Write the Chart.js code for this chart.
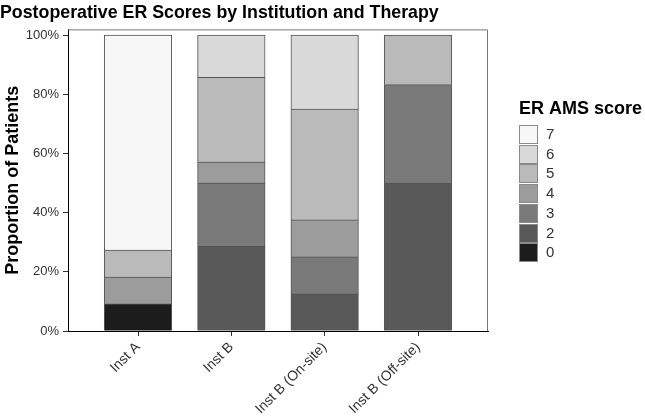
<!DOCTYPE html>
<html>
<head>
<meta charset="utf-8">
<script src="https://cdn.jsdelivr.net/npm/chart.js@4.4.1/dist/chart.umd.min.js"></script>
<style>
    html, body { margin: 0; padding: 0; background: #fff; }
</style>
</head>
<body>
<canvas id="myChart" width="645" height="420"></canvas>
<script>
// categories and stacked percentages per ER AMS score
const categories = ['Inst A', 'Inst B', 'Inst B (On-site)', 'Inst B (Off-site)'];
const scoreLabels = ['0', '2', '3', '4', '5', '6', '7'];
const score0 = [9.1, 0, 0, 0];
const score2 = [0, 28.6, 12.5, 50.0];
const score3 = [0, 21.4, 12.5, 33.3];
const score4 = [9.1, 7.1, 12.5, 0];
const score5 = [9.1, 28.6, 37.5, 16.7];
const score6 = [0, 14.3, 25.0, 0];
const score7 = [72.7, 0, 0, 0];
const yTicks = [0, 20, 40, 60, 80, 100];

const greys = ['#1c1c1c', '#595959', '#7a7a7a', '#9c9c9c', '#bababa', '#d9d9d9', '#f7f7f7'];
const seriesValues = [score0, score2, score3, score4, score5, score6, score7];
const FONT = '"Liberation Sans", Arial, sans-serif';

let datasets = seriesValues.map((vals, i) => ({
    label: scoreLabels[i],
    data: vals.map((v, j) => ({ x: j, y: v })),
    backgroundColor: greys[i],
    borderColor: '#555555',
    borderWidth: { top: 1, left: 1, right: 1, bottom: 0 },
    borderSkipped: false,
    inflateAmount: 0.5,
    categoryPercentage: 0.8,
    barPercentage: 0.9
}));

// top and right panel border
const panelBorder = {
    id: 'panelBorder',
    afterDatasetsDraw(chart) {
        const { ctx, chartArea: a } = chart;
        ctx.save();
        ctx.strokeStyle = '#777777';
        ctx.lineWidth = 1;
        ctx.beginPath();
        ctx.moveTo(a.left, a.top + 0.5);
        ctx.lineTo(a.right - 0.5, a.top + 0.5);
        ctx.lineTo(a.right - 0.5, a.bottom);
        ctx.stroke();
        ctx.restore();
    }
};

// legend drawn to the right of the panel, score 7 on top
const scoreLegend = {
    id: 'scoreLegend',
    afterDraw(chart) {
        const ctx = chart.ctx;
        const x = 519;
        ctx.save();
        ctx.fillStyle = '#000';
        ctx.font = 'bold 18px ' + FONT;
        ctx.textBaseline = 'alphabetic';
        ctx.textAlign = 'left';
        ctx.fillText('ER AMS score', x, 114);
        let items = chart.data.datasets.slice().reverse();
        ctx.font = '15px ' + FONT;
        ctx.textBaseline = 'middle';
        items.forEach((ds, i) => {
            let y = Math.round(125 + i * 19.7);
            ctx.fillStyle = ds.backgroundColor;
            ctx.fillRect(x, y, 19, 19);
            ctx.strokeStyle = '#8a8a8a';
            ctx.strokeRect(x + 0.5, y + 0.5, 18, 18);
            ctx.fillStyle = '#333';
            ctx.fillText(ds.label, x + 27, y + 10);
        });
        ctx.restore();
    }
};

let ctx = document.getElementById('myChart').getContext('2d');
let myChart = new Chart(ctx, {
    type: 'bar',
    data: { datasets: datasets },
    plugins: [panelBorder, scoreLegend],
    options: {
        responsive: false,
        animation: false,
        layout: { padding: { left: 0, right: 157, top: 0, bottom: 0 } },
        plugins: {
            legend: { display: false },
            tooltip: { enabled: false },
            title: {
                display: true,
                text: 'Postoperative ER Scores by Institution and Therapy',
                align: 'start',
                color: '#000',
                font: { family: FONT, size: 17.8, weight: 'bold' },
                padding: { top: 2, bottom: 6 }
            }
        },
        scales: {
            x: {
                type: 'linear',
                stacked: true,
                offset: false,
                min: -0.75,
                max: 3.75,
                afterBuildTicks: s => { s.ticks = categories.map((c, i) => ({ value: i })); },
                afterFit: s => { s.height = 89; },
                grid: { display: true, offset: false, drawOnChartArea: false, tickLength: 5, color: '#333' },
                border: { color: '#000', width: 1 },
                ticks: {
                    autoSkip: false,
                    maxRotation: 45,
                    minRotation: 45,
                    padding: 3,
                    color: '#333',
                    font: { family: FONT, size: 14 },
                    callback: v => categories[v]
                }
            },
            y: {
                stacked: true,
                min: 0,
                max: 102,
                afterBuildTicks: s => { s.ticks = yTicks.map(v => ({ value: v })); },
                afterFit: s => { s.width = 68; },
                grid: { display: true, drawOnChartArea: false, tickLength: 5, color: '#333' },
                border: { color: '#000', width: 1 },
                ticks: {
                    padding: 4,
                    color: '#333',
                    font: { family: FONT, size: 13 },
                    callback: v => v + '%'
                },
                title: {
                    display: true,
                    text: 'Proportion of Patients',
                    color: '#000',
                    font: { family: FONT, size: 18, weight: 'bold' },
                    padding: { top: 2, bottom: 0 }
                }
            }
        }
    }
});
</script>
</body>
</html>
